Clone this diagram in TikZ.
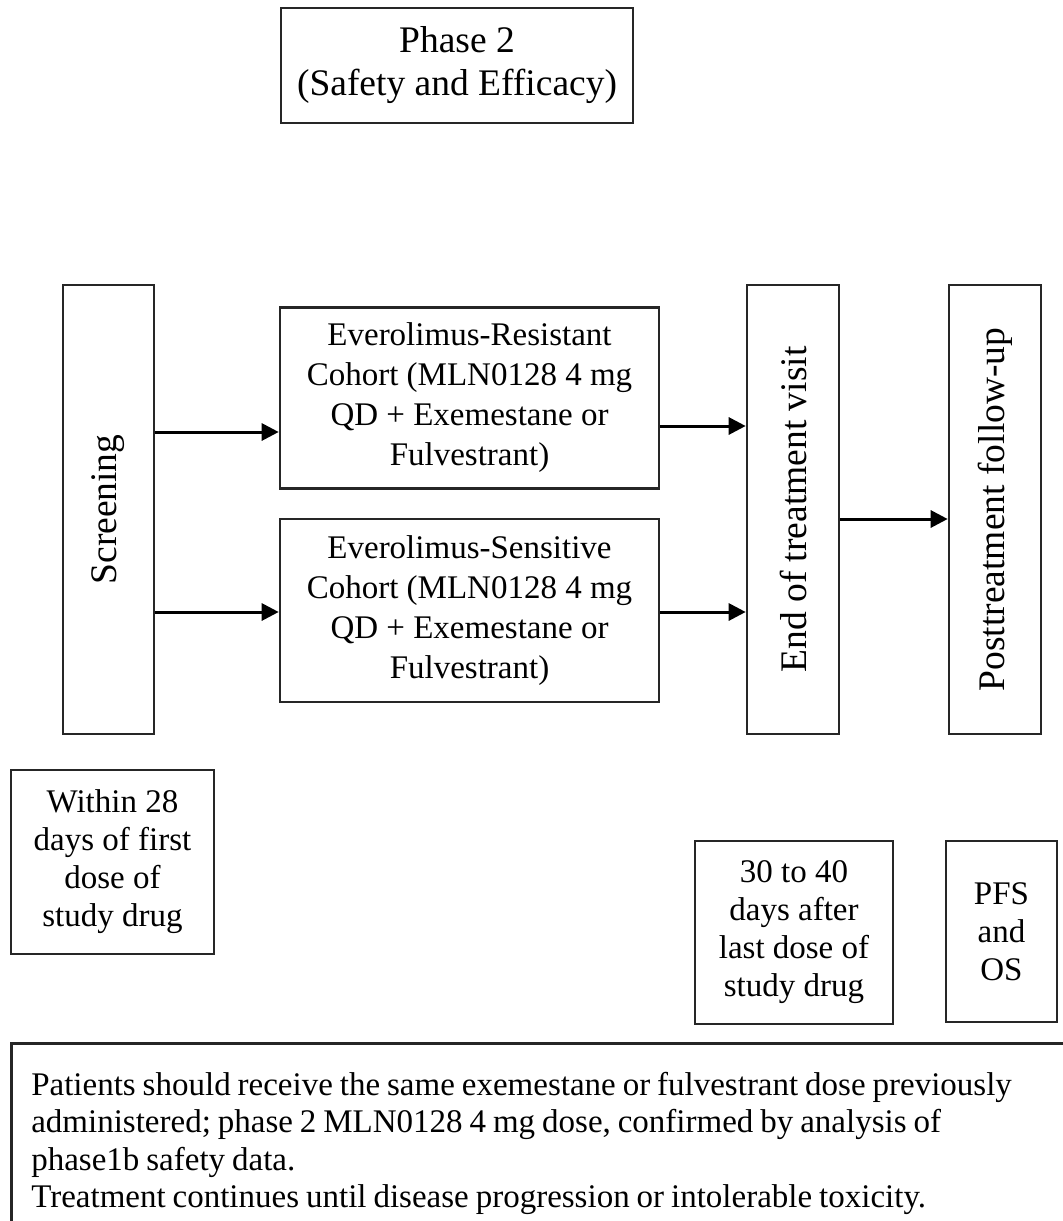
\documentclass[tikz,border=0pt]{standalone}
\usepackage{fontspec}
\setmainfont{Liberation Serif}
\usetikzlibrary{arrows.meta}
\begin{document}
\begin{tikzpicture}[x=1pt,y=-1pt,
  box/.style={draw=black!85,line width=2.6pt,inner sep=0pt,align=center,
    font=\fontsize{33}{40}\selectfont},
  small/.style={font=\fontsize{33}{38}\selectfont},
  vlabel/.style={rotate=90,font=\fontsize{37.5}{40}\selectfont},
  arr/.style={line width=3pt,-{Triangle[length=17pt,width=17pt]}}]
\clip (0,0) rectangle (1063,1221);
\fill[white] (0,0) rectangle (1063,1221);
\node[box,minimum width=352pt,minimum height=115pt,
  font=\fontsize{37.5}{43}\selectfont] (phase) at (457,65.5)
  {Phase 2\\(Safety and Efficacy)};
\node[box,minimum width=91pt,minimum height=449pt] (screen) at (108.5,509.5) {};
\node[vlabel] (screenT) at (screen.center) {Screening};
\node[box,minimum width=379pt,minimum height=181pt] (res) at (469.5,398)
  {Everolimus-Resistant\\Cohort (MLN0128 4 mg\\QD + Exemestane or\\Fulvestrant)};
\node[box,minimum width=379pt,minimum height=183pt] (sens) at (469.5,610.5)
  {Everolimus-Sensitive\\Cohort (MLN0128 4 mg\\QD + Exemestane or\\Fulvestrant)};
\node[box,minimum width=92pt,minimum height=449pt] (eot) at (793,509.5) {};
\node[vlabel] (eotT) at (eot.center) {End of treatment visit};
\node[box,minimum width=92pt,minimum height=449pt] (post) at (995,509.5) {};
\node[vlabel] (postT) at (post.center) {Posttreatment follow-up};
\node[box,small,minimum width=203pt,minimum height=184pt] (within) at (112.5,862)
  {Within 28\\days of first\\dose of\\study drug};
\node[box,small,minimum width=198pt,minimum height=183pt] (thirty) at (794,932.5)
  {30 to 40\\days after\\last dose of\\study drug};
\node[box,small,minimum width=111pt,minimum height=181pt] (pfs) at (1001.5,931.5)
  {PFS\\and\\OS};
\node[box,anchor=north west,minimum width=1080pt,minimum height=200pt,
  align=left,text width=1060pt,inner xsep=20pt,
  font=\fontsize{33}{37.5}\selectfont] (note) at (10,1042)
  {\spaceskip=0.21em plus 0.1em minus 0.05em
   Patients should receive the same exemestane or fulvestrant dose previously\\
   administered; phase 2 MLN0128 4 mg dose, confirmed by analysis of\\
   phase1b safety data.\\
   Treatment continues until disease progression or intolerable toxicity.};
\draw[arr] (screen.east |- 0,432) -- (res.west |- 0,432);
\draw[arr] (screen.east |- 0,612) -- (sens.west |- 0,612);
\draw[arr] (res.east |- 0,426) -- (eot.west |- 0,426);
\draw[arr] (sens.east |- 0,612) -- (eot.west |- 0,612);
\draw[arr] (eot.east |- 0,519) -- (post.west |- 0,519);
\end{tikzpicture}
\end{document}
